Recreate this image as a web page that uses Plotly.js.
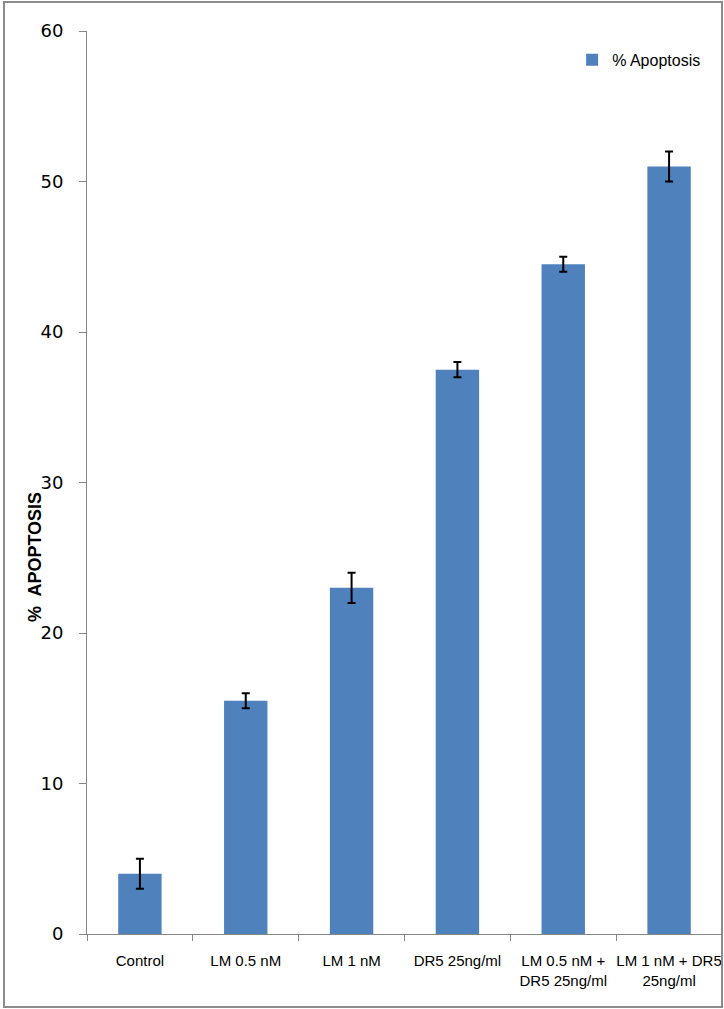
<!DOCTYPE html>
<html>
<head>
<meta charset="utf-8">
<script src="https://cdn.plot.ly/plotly-3.0.1.min.js"></script>
<style>
html,body{margin:0;padding:0;background:#fff;}
#wrap{position:relative;width:724px;height:1009px;}
#chart{width:724px;height:1009px;}
#frame{position:absolute;left:3px;top:1px;width:716px;height:1003px;border:2px solid #8c8c8c;pointer-events:none;}
</style>
</head>
<body>
<div id="wrap"><div id="chart"></div><div id="frame"></div></div>
<script>
const categories = ["Control", "LM 0.5 nM", "LM 1 nM", "DR5 25ng/ml", "LM 0.5 nM +<br>DR5 25ng/ml", "LM 1 nM + DR5<br>25ng/ml"];
const apoptosis = [4, 15.5, 23, 37.5, 44.5, 51];
const errors = [1, 0.5, 1, 0.5, 0.5, 1];
const seriesName = "% Apoptosis";
const yTitle = "%  APOPTOSIS";

const trace = {
  type: "bar",
  x: categories,
  y: apoptosis,
  name: seriesName,
  marker: {color: "#4F81BD"},
  error_y: {type: "data", array: errors, visible: true, color: "#000", thickness: 2, width: 4},
  showlegend: true
};

const layout = {
  width: 724, height: 1009,
  margin: {l: 87, r: 2, t: 31, b: 75},
  paper_bgcolor: "#fff", plot_bgcolor: "#fff",
  bargap: 0.59,
  font: {family: "Liberation Sans, Arial, sans-serif", color: "#000"},
  xaxis: {
    type: "category",
    showline: true, linecolor: "#868686", linewidth: 1,
    ticks: "outside", tickson: "boundaries", ticklen: 6, tickcolor: "#868686",
    tickangle: 0,
    tickfont: {size: 15, family: "Liberation Sans, Arial, sans-serif", color: "#000"},
    ticklabelstandoff: 13,
    showgrid: false, zeroline: false, fixedrange: true
  },
  yaxis: {
    range: [0, 60], dtick: 10,
    showline: true, linecolor: "#868686", linewidth: 1,
    ticks: "outside", ticklen: 7, tickcolor: "#868686",
    tickfont: {size: 18, family: "DejaVu Sans, Verdana, sans-serif", color: "#000"},
    ticklabelstandoff: 12,
    showgrid: false, zeroline: false, fixedrange: true
  },
  showlegend: true,
  legend: {
    x: 0.764, y: 0.968, xanchor: "left", yanchor: "middle",
    font: {size: 16, family: "Liberation Sans, Arial, sans-serif", color: "#000"},
    bgcolor: "rgba(0,0,0,0)"
  },
  annotations: [{
    text: "<b>" + yTitle + "</b>",
    xref: "paper", yref: "paper",
    x: -0.082, y: 0.4175, xanchor: "center", yanchor: "middle",
    textangle: -90, showarrow: false,
    font: {size: 18, family: "Liberation Sans, Arial, sans-serif", color: "#000"}
  }]
};

Plotly.newPlot("chart", [trace], layout, {displayModeBar: false, staticPlot: true});
</script>
</body>
</html>
